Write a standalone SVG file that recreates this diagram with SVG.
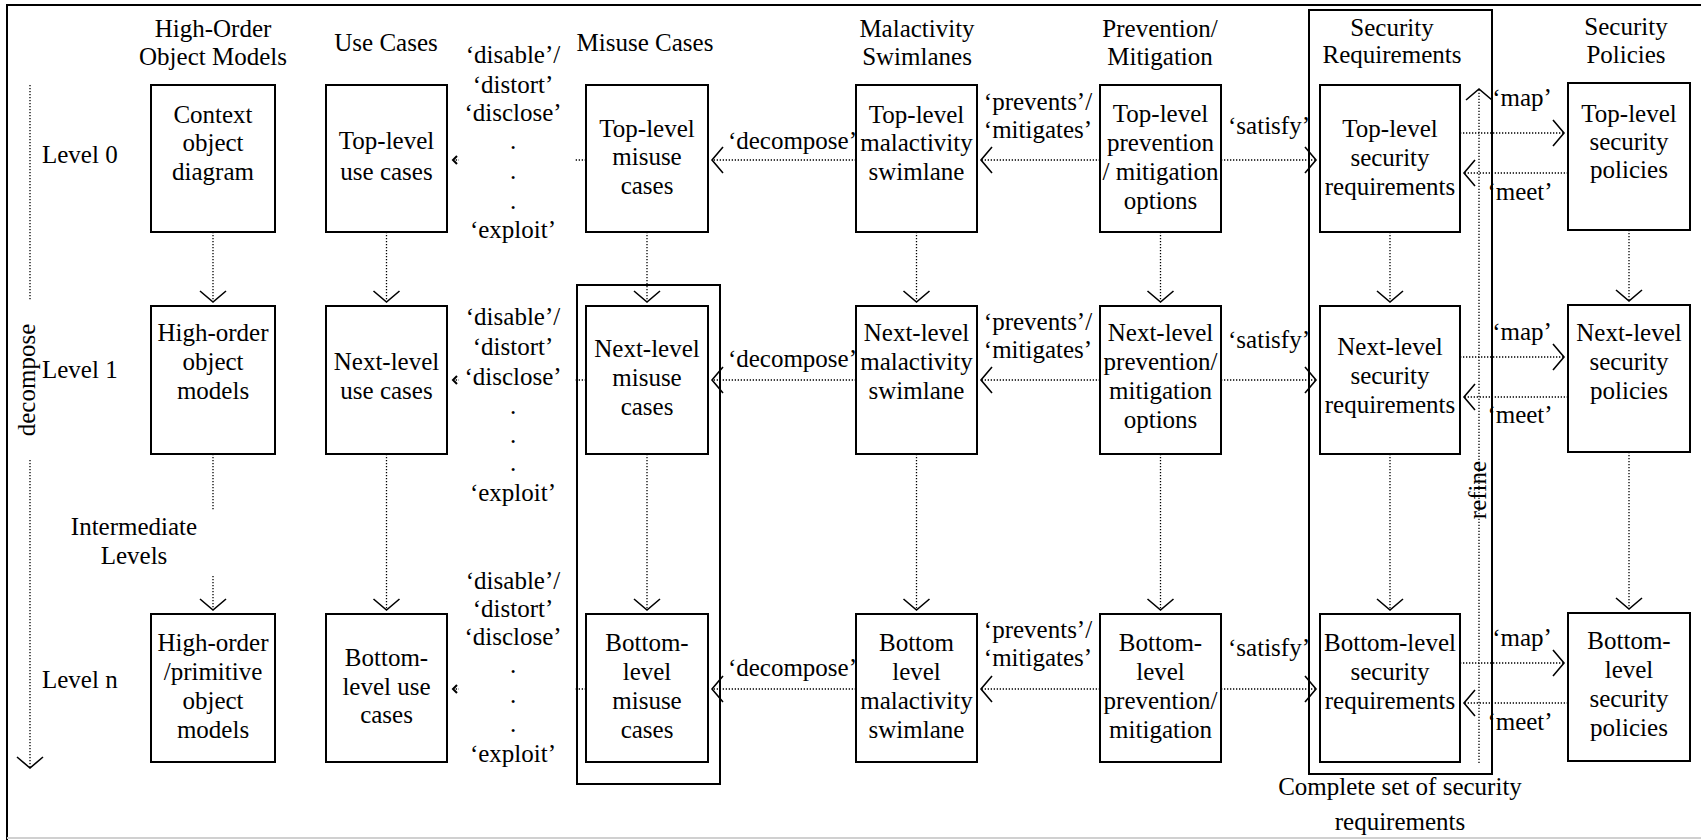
<svg xmlns="http://www.w3.org/2000/svg" width="1701" height="840" viewBox="0 0 1701 840">
<style>
.box{fill:#fff;stroke:#000;stroke-width:2}
.frame{fill:none;stroke:#000;stroke-width:2}
.dot{fill:none;stroke:#000;stroke-width:1.3;stroke-dasharray:1.3 1.7}
.t{font-family:"Liberation Serif","Times New Roman",serif;font-size:25px;text-anchor:middle;fill:#000}
.ts{text-anchor:start}
.te{text-anchor:end}
.bg{fill:#fff;stroke:none}
</style>
<defs>
<marker id="ah" viewBox="0 0 14 28" markerUnits="userSpaceOnUse" markerWidth="14" markerHeight="28" refX="12" refY="14" orient="auto" overflow="visible">
<path d="M1,1 L12,14 L1,27" fill="none" stroke="#000" stroke-width="1.6" stroke-dasharray="none"/>
</marker>
<marker id="sm" viewBox="0 0 6 10" markerUnits="userSpaceOnUse" markerWidth="6" markerHeight="10" refX="5" refY="5" orient="auto" overflow="visible">
<path d="M1,1 L5,5 L1,9" fill="none" stroke="#000" stroke-width="2" stroke-dasharray="none"/>
</marker>
</defs>
<rect x="0" y="0" width="1701" height="840" fill="#fff"/>
<path d="M7,840 V5 H1701" class="frame"/>
<line x1="7" y1="838" x2="1701" y2="838" stroke="#d0d0d0" stroke-width="2"/>

<g id="headers">
<text class="t" x="213" y="37">High-Order</text>
<text class="t" x="213" y="65">Object Models</text>
<text class="t" x="386" y="51">Use Cases</text>
<text class="t" x="645" y="51">Misuse Cases</text>
<text class="t" x="917" y="37">Malactivity</text>
<text class="t" x="917" y="65">Swimlanes</text>
<text class="t" x="1160" y="37">Prevention/</text>
<text class="t" x="1160" y="65">Mitigation</text>
<text class="t" x="1392" y="36">Security</text>
<text class="t" x="1392" y="63">Requirements</text>
<text class="t" x="1626" y="35">Security</text>
<text class="t" x="1626" y="63">Policies</text>
</g>

<g id="levels">
<text class="t ts" x="42" y="163">Level 0</text>
<text class="t ts" x="42" y="378">Level 1</text>
<text class="t ts" x="42" y="688">Level n</text>
<text class="t" x="134" y="535">Intermediate</text>
<text class="t" x="134" y="564">Levels</text>
</g>

<g id="frames">
<rect id="misuse-frame" class="frame" x="577" y="285" width="143" height="499"/>
<rect id="secreq-frame" class="frame" x="1309" y="10" width="183" height="764"/>
<text class="t" x="1400" y="795">Complete set of security</text>
<text class="t" x="1400" y="830">requirements</text>
</g>

<g id="connectors">
<path class="dot" d="M30,85 V300"/>
<path class="dot" d="M30,460 V768" marker-end="url(#ah)"/>
<text class="t" transform="translate(35,380) rotate(-90)">decompose</text>

<path class="dot" d="M213,232 V302" marker-end="url(#ah)"/>
<path class="dot" d="M213,454 V510"/>
<path class="dot" d="M213,576 V610" marker-end="url(#ah)"/>
<path class="dot" d="M386.5,232 V302" marker-end="url(#ah)"/>
<path class="dot" d="M386.5,454 V610" marker-end="url(#ah)"/>
<path class="dot" d="M647,232 V302" marker-end="url(#ah)"/>
<path class="dot" d="M647,454 V610" marker-end="url(#ah)"/>
<path class="dot" d="M916.5,232 V302" marker-end="url(#ah)"/>
<path class="dot" d="M916.5,454 V610" marker-end="url(#ah)"/>
<path class="dot" d="M1160.5,232 V302" marker-end="url(#ah)"/>
<path class="dot" d="M1160.5,454 V610" marker-end="url(#ah)"/>
<path class="dot" d="M1390,232 V302" marker-end="url(#ah)"/>
<path class="dot" d="M1390,454 V610" marker-end="url(#ah)"/>
<path class="dot" d="M1629,230 V301" marker-end="url(#ah)"/>
<path class="dot" d="M1629,452 V609" marker-end="url(#ah)"/>

<path class="dot" d="M1479,763 V89" marker-end="url(#ah)"/>
<text class="t" transform="translate(1486,490) rotate(-90)">refine</text>

<path class="dot" d="M586,160 H453" marker-end="url(#sm)"/>
<path class="dot" d="M586,380 H453" marker-end="url(#sm)"/>
<path class="dot" d="M586,689 H453" marker-end="url(#sm)"/>
<path class="dot" d="M856,160 H712" marker-end="url(#ah)"/>
<path class="dot" d="M856,380 H712" marker-end="url(#ah)"/>
<path class="dot" d="M856,689 H712" marker-end="url(#ah)"/>
<path class="dot" d="M1100,160 H981" marker-end="url(#ah)"/>
<path class="dot" d="M1100,380 H981" marker-end="url(#ah)"/>
<path class="dot" d="M1100,689 H981" marker-end="url(#ah)"/>
<path class="dot" d="M1221,160 H1316" marker-end="url(#ah)"/>
<path class="dot" d="M1221,380 H1316" marker-end="url(#ah)"/>
<path class="dot" d="M1221,689 H1316" marker-end="url(#ah)"/>
<path class="dot" d="M1460,133 H1564" marker-end="url(#ah)"/>
<path class="dot" d="M1460,357 H1564" marker-end="url(#ah)"/>
<path class="dot" d="M1460,663 H1564" marker-end="url(#ah)"/>
<path class="dot" d="M1568,173 H1464" marker-end="url(#ah)"/>
<path class="dot" d="M1568,397 H1464" marker-end="url(#ah)"/>
<path class="dot" d="M1568,703 H1464" marker-end="url(#ah)"/>

<rect class="bg" x="459" y="34" width="115" height="214"/>
<rect class="bg" x="459" y="300" width="115" height="210"/>
<rect class="bg" x="459" y="563" width="115" height="208"/>
<g id="threat-labels">
<text class="t" x="513" y="63">‘disable’/</text>
<text class="t" x="513" y="93">‘distort’</text>
<text class="t" x="513" y="121">‘disclose’</text>
<text class="t" x="513" y="149">.</text>
<text class="t" x="513" y="179">.</text>
<text class="t" x="513" y="209">.</text>
<text class="t" x="513" y="238">‘exploit’</text>
<text class="t" x="513" y="325">‘disable’/</text>
<text class="t" x="513" y="355">‘distort’</text>
<text class="t" x="513" y="385">‘disclose’</text>
<text class="t" x="513" y="414">.</text>
<text class="t" x="513" y="443">.</text>
<text class="t" x="513" y="471">.</text>
<text class="t" x="513" y="501">‘exploit’</text>
<text class="t" x="513" y="589">‘disable’/</text>
<text class="t" x="513" y="617">‘distort’</text>
<text class="t" x="513" y="645">‘disclose’</text>
<text class="t" x="513" y="673">.</text>
<text class="t" x="513" y="703">.</text>
<text class="t" x="513" y="732">.</text>
<text class="t" x="513" y="762">‘exploit’</text>
</g>
<text class="t te" x="857" y="149">‘decompose’</text>
<text class="t te" x="857" y="367">‘decompose’</text>
<text class="t te" x="857" y="676">‘decompose’</text>
<text class="t" x="1038" y="110">‘prevents’/</text>
<text class="t" x="1038" y="138">‘mitigates’</text>
<text class="t" x="1038" y="330">‘prevents’/</text>
<text class="t" x="1038" y="358">‘mitigates’</text>
<text class="t" x="1038" y="638">‘prevents’/</text>
<text class="t" x="1038" y="666">‘mitigates’</text>
<text class="t" x="1269" y="134">‘satisfy’</text>
<text class="t" x="1269" y="348">‘satisfy’</text>
<text class="t" x="1269" y="656">‘satisfy’</text>
<text class="t" x="1522" y="106">‘map’</text>
<text class="t" x="1522" y="340">‘map’</text>
<text class="t" x="1522" y="646">‘map’</text>
<text class="t" x="1520" y="200">‘meet’</text>
<text class="t" x="1520" y="423">‘meet’</text>
<text class="t" x="1520" y="730">‘meet’</text>
</g>

<g id="ctx0"><rect class="box" x="151" y="85" width="124" height="147"/><text class="t" x="213" y="123">Context</text><text class="t" x="213" y="151">object</text><text class="t" x="213" y="180">diagram</text></g>
<g id="use0"><rect class="box" x="326" y="85" width="121" height="147"/><text class="t" x="386.5" y="149">Top-level</text><text class="t" x="386.5" y="180">use cases</text></g>
<g id="mis0"><rect class="box" x="586" y="85" width="122" height="147"/><text class="t" x="647" y="137">Top-level</text><text class="t" x="647" y="165">misuse</text><text class="t" x="647" y="194">cases</text></g>
<g id="mal0"><rect class="box" x="856" y="85" width="121" height="147"/><text class="t" x="916.5" y="123">Top-level</text><text class="t" x="916.5" y="151">malactivity</text><text class="t" x="916.5" y="180">swimlane</text></g>
<g id="prev0"><rect class="box" x="1100" y="85" width="121" height="147"/><text class="t" x="1160.5" y="122">Top-level</text><text class="t" x="1160.5" y="151">prevention</text><text class="t" x="1160.5" y="180">/ mitigation</text><text class="t" x="1160.5" y="209">options</text></g>
<g id="req0"><rect class="box" x="1320" y="85" width="140" height="147"/><text class="t" x="1390" y="137">Top-level</text><text class="t" x="1390" y="166">security</text><text class="t" x="1390" y="195">requirements</text></g>
<g id="pol0"><rect class="box" x="1568" y="83" width="122" height="147"/><text class="t" x="1629" y="122">Top-level</text><text class="t" x="1629" y="150">security</text><text class="t" x="1629" y="178">policies</text></g>

<g id="ctx1"><rect class="box" x="151" y="306" width="124" height="148"/><text class="t" x="213" y="341">High-order</text><text class="t" x="213" y="370">object</text><text class="t" x="213" y="399">models</text></g>
<g id="use1"><rect class="box" x="326" y="306" width="121" height="148"/><text class="t" x="386.5" y="370">Next-level</text><text class="t" x="386.5" y="399">use cases</text></g>
<g id="mis1"><rect class="box" x="586" y="306" width="122" height="148"/><text class="t" x="647" y="357">Next-level</text><text class="t" x="647" y="386">misuse</text><text class="t" x="647" y="415">cases</text></g>
<g id="mal1"><rect class="box" x="856" y="306" width="121" height="148"/><text class="t" x="916.5" y="341">Next-level</text><text class="t" x="916.5" y="370">malactivity</text><text class="t" x="916.5" y="399">swimlane</text></g>
<g id="prev1"><rect class="box" x="1100" y="306" width="121" height="148"/><text class="t" x="1160.5" y="341">Next-level</text><text class="t" x="1160.5" y="370">prevention/</text><text class="t" x="1160.5" y="399">mitigation</text><text class="t" x="1160.5" y="428">options</text></g>
<g id="req1"><rect class="box" x="1320" y="306" width="140" height="148"/><text class="t" x="1390" y="355">Next-level</text><text class="t" x="1390" y="384">security</text><text class="t" x="1390" y="413">requirements</text></g>
<g id="pol1"><rect class="box" x="1568" y="305" width="122" height="147"/><text class="t" x="1629" y="341">Next-level</text><text class="t" x="1629" y="370">security</text><text class="t" x="1629" y="399">policies</text></g>

<g id="ctxn"><rect class="box" x="151" y="614" width="124" height="148"/><text class="t" x="213" y="651">High-order</text><text class="t" x="213" y="680">/primitive</text><text class="t" x="213" y="709">object</text><text class="t" x="213" y="738">models</text></g>
<g id="usen"><rect class="box" x="326" y="614" width="121" height="148"/><text class="t" x="386.5" y="666">Bottom-</text><text class="t" x="386.5" y="695">level use</text><text class="t" x="386.5" y="723">cases</text></g>
<g id="misn"><rect class="box" x="586" y="614" width="122" height="148"/><text class="t" x="647" y="651">Bottom-</text><text class="t" x="647" y="680">level</text><text class="t" x="647" y="709">misuse</text><text class="t" x="647" y="738">cases</text></g>
<g id="maln"><rect class="box" x="856" y="614" width="121" height="148"/><text class="t" x="916.5" y="651">Bottom</text><text class="t" x="916.5" y="680">level</text><text class="t" x="916.5" y="709">malactivity</text><text class="t" x="916.5" y="738">swimlane</text></g>
<g id="prevn"><rect class="box" x="1100" y="614" width="121" height="148"/><text class="t" x="1160.5" y="651">Bottom-</text><text class="t" x="1160.5" y="680">level</text><text class="t" x="1160.5" y="709">prevention/</text><text class="t" x="1160.5" y="738">mitigation</text></g>
<g id="reqn"><rect class="box" x="1320" y="614" width="140" height="148"/><text class="t" x="1390" y="651">Bottom-level</text><text class="t" x="1390" y="680">security</text><text class="t" x="1390" y="709">requirements</text></g>
<g id="poln"><rect class="box" x="1568" y="613" width="122" height="148"/><text class="t" x="1629" y="649">Bottom-</text><text class="t" x="1629" y="678">level</text><text class="t" x="1629" y="707">security</text><text class="t" x="1629" y="736">policies</text></g>
</svg>
